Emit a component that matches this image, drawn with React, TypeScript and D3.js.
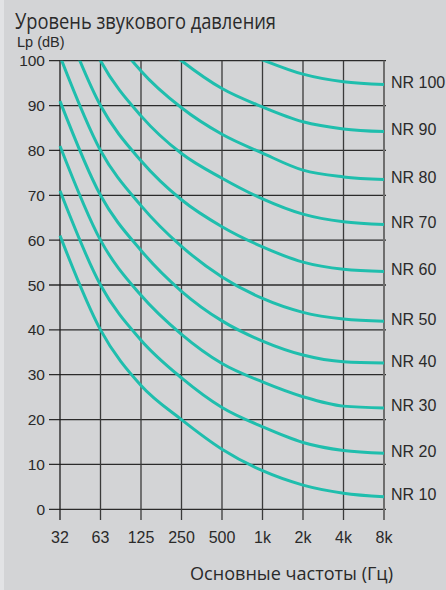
import React from "react";
import * as d3 from "d3";

const freqLabels = ["32", "63", "125", "250", "500", "1k", "2k", "4k", "8k"];
const yTicks = [0, 10, 20, 30, 40, 50, 60, 70, 80, 90, 100];
const nrNames = ["NR 10", "NR 20", "NR 30", "NR 40", "NR 50", "NR 60", "NR 70", "NR 80", "NR 90", "NR 100"];

const nr10 = [61, 40, 27.6, 20.0, 13.4, 8.6, 5.4, 3.6, 2.8];
const nr20 = [71, 50, 37.7, 29.3, 22.7, 18.4, 14.9, 13.1, 12.5];
const nr30 = [81, 60, 47.7, 39.0, 32.5, 28.4, 25.1, 23.0, 22.6];
const nr40 = [91, 70, 57.7, 48.6, 42.0, 37.5, 34.4, 32.9, 32.6];
const nr50 = [101, 80, 67.7, 58.6, 51.8, 47.0, 43.9, 42.4, 41.9];
const nr60 = [111, 90, 77.7, 69.0, 63.0, 58.5, 55.1, 53.5, 53.0];
const nr70 = [121, 100, 87.7, 79.3, 73.8, 69.2, 65.8, 64.1, 63.5];
const nr80 = [131, 110, 97.7, 89.5, 83.6, 79.4, 75.6, 74.1, 73.5];
const nr90 = [141, 120, 107.7, 100.0, 93.8, 89.7, 86.4, 84.8, 84.2];
const nr100 = [151, 130, 117.7, 110.0, 104.0, 100.2, 97.0, 95.3, 94.7];

const series = [nr10, nr20, nr30, nr40, nr50, nr60, nr70, nr80, nr90, nr100];

const W = 446;
const H = 590;
const left = 60;
const right = 384;
const top = 60.7;
const bottom = 509.3;

export default function App() {
  const x = d3.scalePoint<string>().domain(freqLabels).range([left, right]).padding(0);
  const y = d3.scaleLinear().domain([0, 100]).range([bottom, top]);
  const line = d3
    .line<number>()
    .x((_, i) => x(freqLabels[i]) as number)
    .y((d) => y(d))
    .curve(d3.curveMonotoneX);

  const teal = "#1fbead";
  const arial = "'Liberation Sans', Arial, sans-serif";
  const cond = "'Open Sans', 'Noto Sans', sans-serif";

  return (
    <svg
      width={W}
      height={H}
      style={{ position: "absolute", left: 0, top: 0, display: "block" }}
    >
      <defs>
        <clipPath id="plotclip">
          <rect x={left - 2} y={top} width={right - left + 4} height={bottom - top} />
        </clipPath>
      </defs>
      <rect x={0} y={0} width={W} height={H} fill="#d3d4d6" />
      <rect x={0} y={0} width={4} height={H} fill="#e2e3e5" />

      <text x={15} y={29} fontFamily={cond} fontSize={21} fill="#2a2a2a" textLength={261} lengthAdjust="spacingAndGlyphs">
        Уровень звукового давления
      </text>
      <text x={17} y={47} fontFamily={arial} fontSize={14.5} fill="#2a2a2a">
        Lp (dB)
      </text>

      {/* horizontal grid */}
      {yTicks.map((t) => (
        <line key={"h" + t} x1={49} x2={386} y1={y(t)} y2={y(t)} stroke="#2b2b2b" strokeWidth={1.3} />
      ))}
      {/* vertical grid */}
      {freqLabels.map((f, i) => (
        <line
          key={"v" + f}
          x1={x(f)}
          x2={x(f)}
          y1={top}
          y2={520}
          stroke={i === freqLabels.length - 1 ? "#6e6e6e" : i === 0 ? "#1e1e1e" : "#3a3a3a"}
          strokeWidth={i === freqLabels.length - 1 ? 2 : 1.3}
        />
      ))}

      {yTicks.map((t) => (
        <text
          key={"yl" + t}
          x={45}
          y={y(t)}
          textAnchor="end"
          dominantBaseline="central"
          fontFamily={arial}
          fontSize={15.5}
          fill="#2a2a2a"
        >
          {t}
        </text>
      ))}
      {freqLabels.map((f) => (
        <text
          key={"xl" + f}
          x={x(f)}
          y={537}
          textAnchor="middle"
          dominantBaseline="central"
          fontFamily={arial}
          fontSize={16}
          fill="#2a2a2a"
        >
          {f}
        </text>
      ))}

      <g clipPath="url(#plotclip)">
        {series.map((s, k) => (
          <path key={"c" + k} d={line(s) || ""} fill="none" stroke={teal} strokeWidth={3} />
        ))}
      </g>

      {series.map((s, k) => (
        <text
          key={"nr" + k}
          x={391}
          y={y(s[s.length - 1]) - 2}
          dominantBaseline="central"
          fontFamily={arial}
          fontSize={16}
          fill="#2a2a2a"
        >
          {nrNames[k]}
        </text>
      ))}

      <text x={190} y={580} fontFamily={cond} fontSize={19} fill="#2a2a2a" textLength={203} lengthAdjust="spacingAndGlyphs">
        Основные частоты (Гц)
      </text>
    </svg>
  );
}
